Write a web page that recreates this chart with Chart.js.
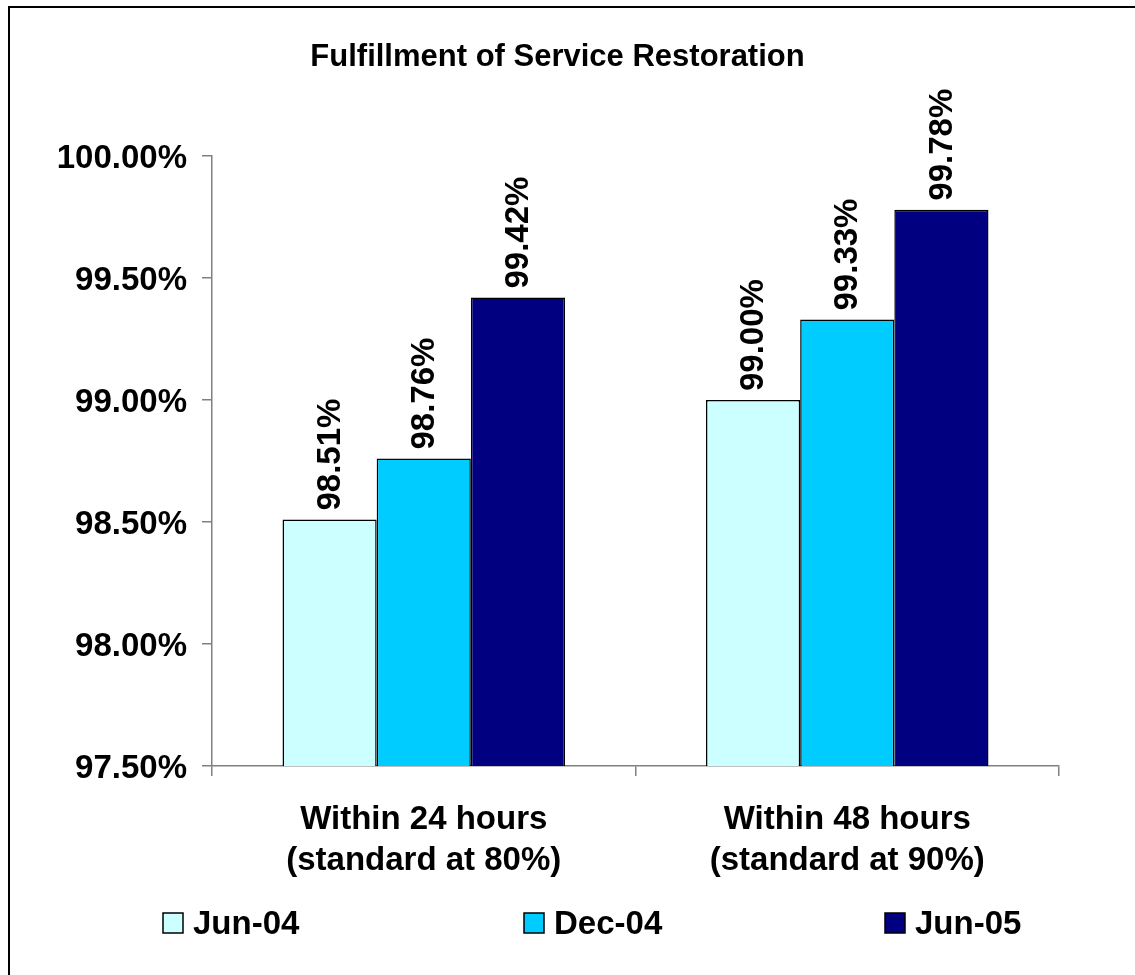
<!DOCTYPE html>
<html><head><meta charset="utf-8">
<script src="https://cdn.jsdelivr.net/npm/chart.js@4/dist/chart.umd.min.js"></script>
<style>html,body{margin:0;padding:0;background:#fff;overflow:hidden;} #wrap{width:1135px;height:975px;position:relative;}</style>
</head><body><div id="wrap"><canvas id="c" width="1135" height="975"></canvas></div>
<script>
const chartTitle = 'Fulfillment of Service Restoration';
const categories = [['Within 24 hours', '(standard at 80%)'], ['Within 48 hours', '(standard at 90%)']];
const seriesNames = ['Jun-04', 'Dec-04', 'Jun-05'];
const jun04 = [98.51, 99.00];
const dec04 = [98.76, 99.33];
const jun05 = [99.42, 99.78];
const seriesColors = ['#CCFFFF', '#00CCFF', '#000080'];
const yMin = 97.5, yMax = 100, yStep = 0.5;

const FONT = "'Liberation Sans', Arial, Helvetica, sans-serif";
const seriesValues = [jun04, dec04, jun05];

const bgPlugin = {
  id: 'bg',
  beforeDraw(chart) {
    const ctx = chart.ctx;
    ctx.save();
    ctx.fillStyle = '#fff';
    ctx.fillRect(0, 0, chart.width, chart.height);
    ctx.restore();
  },
  afterDraw(chart) {
    const ctx = chart.ctx;
    ctx.save();
    ctx.strokeStyle = '#000';
    ctx.lineWidth = 2;
    ctx.beginPath();
    ctx.moveTo(9, chart.height + 5);
    ctx.lineTo(9, 7);
    ctx.lineTo(chart.width + 5, 7);
    ctx.stroke();
    // title
    ctx.fillStyle = '#000';
    ctx.font = 'bold 31px ' + FONT;
    ctx.textAlign = 'center';
    ctx.textBaseline = 'middle';
    ctx.fillText(chartTitle, 557.5, 57);
    // legend
    ctx.font = 'bold 33px ' + FONT;
    ctx.textAlign = 'left';
    chart.data.datasets.forEach((ds, i) => {
      const x = 163 + 361 * i, y = 913;
      ctx.fillStyle = ds.backgroundColor;
      ctx.fillRect(x, y, 20, 20);
      ctx.strokeStyle = '#000';
      ctx.lineWidth = 1.5;
      ctx.strokeRect(x, y, 20, 20);
      ctx.fillStyle = '#000';
      ctx.fillText(ds.label, x + 30, y + 12);
    });
    ctx.restore();
  }
};

const labelPlugin = {
  id: 'vlabels',
  afterDatasetsDraw(chart) {
    const ctx = chart.ctx;
    ctx.save();
    ctx.fillStyle = '#000';
    ctx.font = 'bold 33px ' + FONT;
    ctx.textAlign = 'left';
    ctx.textBaseline = 'middle';
    chart.data.datasets.forEach((ds, di) => {
      const meta = chart.getDatasetMeta(di);
      meta.data.forEach((el, i) => {
        ctx.save();
        ctx.translate(el.x + 1, el.y - 9);
        ctx.rotate(-Math.PI / 2);
        ctx.fillText(ds.data[i].toFixed(2) + '%', 0, 0);
        ctx.restore();
      });
    });
    ctx.restore();
  }
};

new Chart(document.getElementById('c'), {
  type: 'bar',
  data: {
    labels: categories,
    datasets: seriesNames.map((name, i) => ({
      label: name,
      data: seriesValues[i],
      backgroundColor: seriesColors[i],
      borderColor: '#000',
      borderWidth: 1.5,
      categoryPercentage: 0.667,
      barPercentage: 1.0
    }))
  },
  options: {
    responsive: false,
    animation: false,
    devicePixelRatio: 1,
    layout: { padding: { top: 156, right: 76, bottom: 0, left: 0 } },
    plugins: { legend: { display: false }, title: { display: false }, tooltip: { enabled: false } },
    scales: {
      x: {
        grid: { display: true, drawOnChartArea: false, drawTicks: true, tickLength: 10, color: '#808080', lineWidth: 1.5, offset: true },
        border: { display: true, color: '#808080', width: 1.5 },
        ticks: { color: '#000', font: { family: FONT, size: 33, weight: 'bold', lineHeight: 1.25 }, padding: 23, maxRotation: 0, autoSkip: false },
        afterFit(s) { s.height = 975 - 766; }
      },
      y: {
        min: yMin, max: yMax,
        grid: { display: true, drawOnChartArea: false, drawTicks: true, tickLength: 10, color: '#808080', lineWidth: 1.5 },
        border: { display: true, color: '#808080', width: 1.5 },
        ticks: { stepSize: yStep, color: '#000', font: { family: FONT, size: 33, weight: 'bold' }, padding: 15, labelOffset: 3,
          callback: v => v.toFixed(2) + '%' },
        afterFit(s) { s.width = 212; }
      }
    }
  },
  plugins: [bgPlugin, labelPlugin]
});
</script>
</body></html>
